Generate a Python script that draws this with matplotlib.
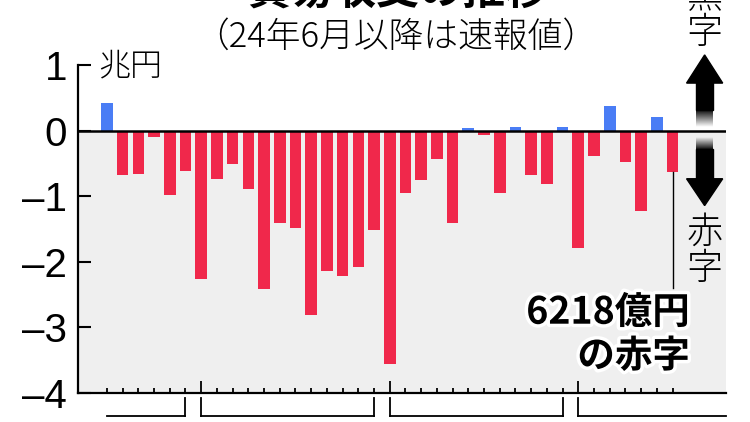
import matplotlib
matplotlib.use("Agg")
import matplotlib.pyplot as plt
import matplotlib.patheffects as pe
from matplotlib.patches import Polygon
import numpy as np

plt.rcParams["font.family"] = ["Noto Sans CJK JP", "DejaVu Sans"]
plt.rcParams["axes.unicode_minus"] = False

# 貿易収支 (兆円), 2021年7月 - 2024年7月
years = ["21年", "22年", "23年", "24年"]
months_per_year = [6, 12, 12, 7]
first_month = [7, 1, 1, 1]
balance = [
    0.43, -0.67, -0.66, -0.10, -0.98, -0.61,
    -2.26, -0.74, -0.50, -0.89, -2.42, -1.41, -1.48, -2.81, -2.14, -2.21, -2.07, -1.51,
    -3.55, -0.94, -0.755, -0.43, -1.40, 0.04, -0.06, -0.95, 0.06, -0.68, -0.81, 0.06,
    -1.78, -0.39, 0.38, -0.48, -1.22, 0.22, -0.6218,
]
yticks = [1, 0, -1, -2, -3, -4]
ytick_labels = ["1", "0", "–1", "–2", "–3", "–4"]

red = "#f0284b"
blue = "#4a7df5"
bg = "#efefef"

fig = plt.figure(figsize=(7.5, 4.22), dpi=100)
ax = fig.add_axes([78 / 750, 29 / 422, 648 / 750, 327.6 / 422])

x = np.arange(len(balance))
colors = [blue if v > 0 else red for v in balance]
ax.bar(x, balance, width=0.74, color=colors, zorder=3)

ax.set_xlim(-1.84, 39.4)
ax.set_ylim(-4, 1)
ax.axhspan(-4, 0, color=bg, zorder=0, lw=0)
ax.axhline(0, color="black", lw=1.8, zorder=4)

for s in ["top", "right"]:
    ax.spines[s].set_visible(False)
for s in ["left", "bottom"]:
    ax.spines[s].set_linewidth(1.6)
    ax.spines[s].set_zorder(5)

ax.set_yticks(yticks)
ax.set_yticklabels(ytick_labels, family=["Liberation Sans", "DejaVu Sans"])
ax.tick_params(axis="y", direction="in", length=9, width=1.5, labelsize=29, pad=8)
for lab in ax.get_yticklabels():
    lab.set_va("center_baseline")

# month ticks: long tick at January
month_nums = []
for fm, n in zip(first_month, months_per_year):
    month_nums += list(range(fm, fm + n))
jan = [i for i, m in enumerate(month_nums) if m == 1]
others = [i for i, m in enumerate(month_nums) if m != 1]
ax.set_xticks(jan)
ax.set_xticks(others, minor=True)
ax.tick_params(axis="x", which="major", direction="in", length=8.5, width=1.3, labelbottom=False)
ax.tick_params(axis="x", which="minor", direction="in", length=3.6, width=1.3)

# year brackets below the axis
trans = ax.get_xaxis_transform()
start = 0
for fm, n in zip(first_month, months_per_year):
    end = start + n - 1
    x0, x1 = start, end
    if fm + n - 1 < 12:
        x1 = ax.get_xlim()[1]
    ax.plot([x0, x1], [-0.07, -0.07], color="black", lw=1.3, transform=trans, clip_on=False)
    if fm == 1:
        ax.plot([x0, x0], [-0.015, -0.07], color="black", lw=1.3, transform=trans, clip_on=False)
    if fm + n - 1 == 12:
        ax.plot([x1, x1], [-0.015, -0.07], color="black", lw=1.3, transform=trans, clip_on=False)
    start = end + 1

# unit label
ax.text(-0.57, 0.99, "兆円", ha="left", va="center", fontsize=23, weight="light", clip_on=False)

# 黒字 / 赤字 arrows on the right
ax_x = 38.04
hw, sw = 1.15, 0.54
up = Polygon([[ax_x - hw, 0.73], [ax_x, 1.16], [ax_x + hw, 0.73]], closed=True,
             color="black", clip_on=False, zorder=6)
down = Polygon([[ax_x - hw, -0.73], [ax_x, -1.14], [ax_x + hw, -0.73]], closed=True,
               color="black", zorder=6)
ax.add_patch(up)
ax.add_patch(down)
ax.add_patch(plt.Rectangle((ax_x - sw, 0.32), 2 * sw, 0.42, color="black", zorder=6))
ax.add_patch(plt.Rectangle((ax_x - sw, -0.74), 2 * sw, 0.46, color="black", zorder=6))
ramp = np.zeros((50, 1, 4))
ramp[:, 0, 3] = np.linspace(1, 0, 50)
ax.imshow(ramp, extent=(ax_x - sw, ax_x + sw, 0.06, 0.32), aspect="auto", zorder=6)
ax.imshow(ramp[::-1], extent=(ax_x - sw, ax_x + sw, -0.29, -0.10), aspect="auto", zorder=6)
ax.set_xlim(-1.84, 39.4)
ax.set_ylim(-4, 1)

for ch, yy in [("黒", 2.05), ("字", 1.50), ("赤", -1.55), ("字", -2.10)]:
    ax.text(ax_x, yy, ch, ha="center", va="center", fontsize=26, weight="light",
            clip_on=False, zorder=7)

# latest value annotation
last = len(balance) - 1
ax.plot([last, last], [balance[last], -2.39], color="black", lw=1, zorder=4)
deficit = round(-balance[last] * 10000)
ax.text(37.1, -3.1, f"{deficit}億円\nの赤字", ha="right", va="center", fontsize=27,
        weight="bold", linespacing=1.15, zorder=7,
        path_effects=[pe.withStroke(linewidth=5, foreground="white")])

# title (top cut off in the original) and note
fig.text(0.53, 1 - 13 / 422, "貿易収支の推移", ha="center", va="bottom", fontsize=31, weight="bold")
fig.text(0.528, 1 - 37 / 422, "（24年6月以降は速報値）", ha="center", va="center",
         fontsize=25, weight="light")

fig.savefig("out.png", dpi=100)
